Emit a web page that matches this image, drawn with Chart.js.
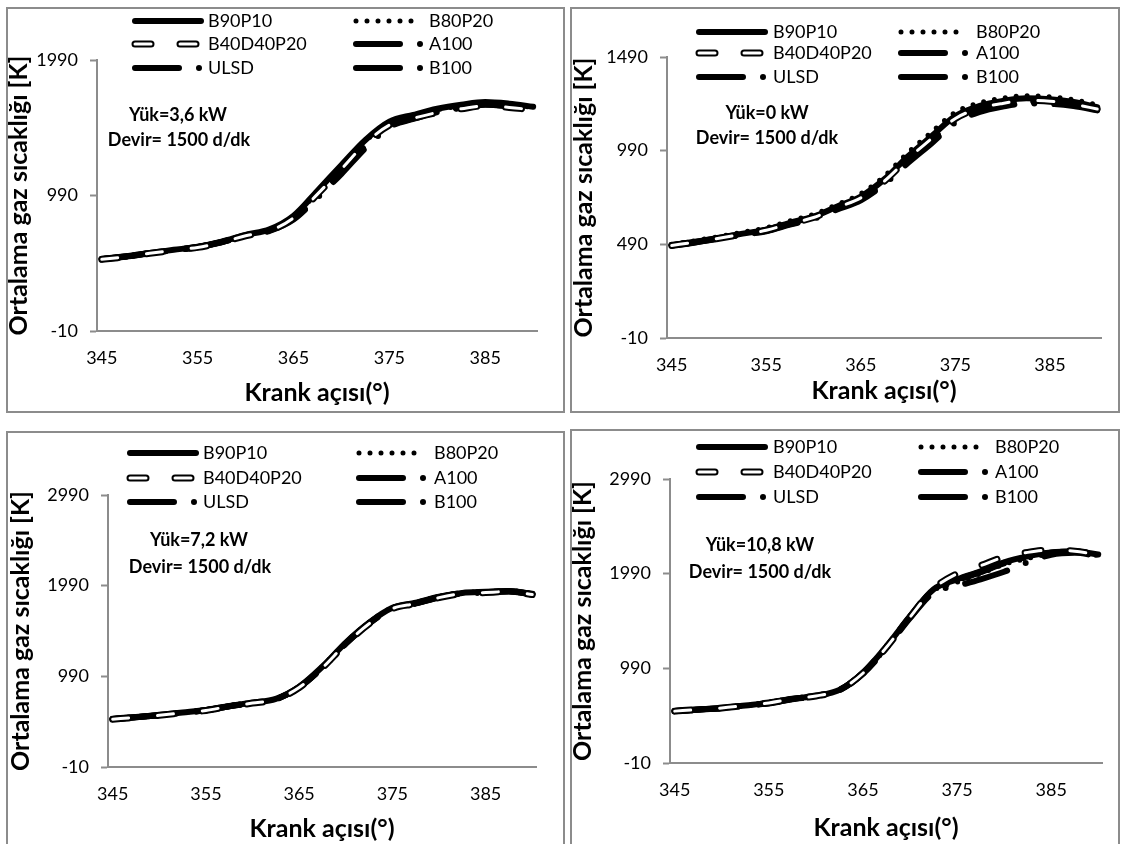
<!DOCTYPE html>
<html>
<head>
<meta charset="utf-8">
<script src="https://cdn.jsdelivr.net/npm/chart.js"></script>
<style>
  body { margin: 0; background: #fff; width: 1125px; height: 844px; overflow: hidden; position: relative; font-family: Lato, sans-serif; }
  .frame { position: absolute; border: 2px solid #8c8c8c; box-sizing: border-box; }
  canvas.layer { position: absolute; left: 0; top: 0; }
</style>
</head>
<body>
<div class="frame" style="left:6px;top:7px;width:559px;height:406px"></div>
<div class="frame" style="left:570px;top:7px;width:550px;height:406px"></div>
<div class="frame" style="left:6px;top:431px;width:559px;height:430px"></div>
<div class="frame" style="left:570px;top:429px;width:550px;height:430px"></div>
<canvas id="chart1" class="layer" width="1125" height="844"></canvas>
<canvas id="chart2" class="layer" width="1125" height="844"></canvas>
<canvas id="chart3" class="layer" width="1125" height="844"></canvas>
<canvas id="chart4" class="layer" width="1125" height="844"></canvas>
<script>
// crank angle (deg) shared by every series
const angles = [345, 347.5, 350, 352.5, 355, 357.5, 360, 362.5, 365, 367.5, 370, 372.5, 375, 377.5, 380, 382.5, 385, 387.5, 390];
const seriesNames = ['B90P10', 'B80P20', 'B40D40P20', 'A100', 'ULSD', 'B100'];
const xTicks = [345, 355, 365, 375, 385];

// Yük=3,6 kW
const p1Ticks = [-10, 990, 1990];
const p1_B90P10    = [521, 541, 566, 589, 612, 650, 700, 740, 840, 1025, 1215, 1400, 1535, 1585, 1630, 1660, 1680, 1668, 1645];
const p1_B80P20    = [520, 540, 565, 588, 610, 648, 698, 736, 835, 1015, 1205, 1392, 1528, 1578, 1622, 1652, 1672, 1660, 1640];
const p1_B40D40P20 = [519, 538, 563, 586, 607, 644, 693, 730, 825, 1000, 1185, 1375, 1510, 1560, 1602, 1630, 1652, 1640, 1622];
const p1_A100      = [520, 539, 564, 587, 609, 646, 696, 732, 818, 985, 1165, 1355, 1500, 1560, 1610, 1640, 1662, 1650, 1630];
const p1_ULSD      = [519, 538, 563, 586, 608, 645, 694, 729, 812, 975, 1150, 1340, 1495, 1555, 1605, 1636, 1660, 1648, 1628];
const p1_B100      = [520, 540, 565, 588, 610, 647, 697, 734, 822, 992, 1175, 1365, 1512, 1568, 1615, 1645, 1668, 1655, 1634];

// Yük=0 kW
const p2Ticks = [-10, 490, 990, 1490];
const p2_B90P10    = [486, 504, 525, 547, 568, 605, 638, 692, 745, 838, 960, 1068, 1175, 1228, 1255, 1270, 1265, 1250, 1222];
const p2_B80P20    = [490, 510, 532, 555, 578, 615, 650, 703, 760, 855, 980, 1090, 1195, 1245, 1270, 1283, 1278, 1262, 1235];
const p2_B40D40P20 = [484, 502, 522, 544, 565, 601, 633, 686, 738, 828, 948, 1055, 1162, 1215, 1242, 1258, 1254, 1238, 1212];
const p2_A100      = [483, 500, 520, 541, 560, 595, 626, 676, 725, 812, 925, 1030, 1140, 1195, 1225, 1242, 1240, 1228, 1205];
const p2_ULSD      = [484, 501, 521, 543, 562, 598, 630, 680, 730, 818, 932, 1040, 1150, 1205, 1235, 1250, 1248, 1235, 1210];
const p2_B100      = [485, 503, 523, 545, 565, 600, 634, 685, 736, 825, 940, 1048, 1158, 1212, 1240, 1256, 1252, 1240, 1214];

// Yük=7,2 kW
const p3Ticks = [-10, 990, 1990, 2990];
const p3_B90P10    = [520, 541, 564, 591, 619, 663, 700, 742, 875, 1098, 1362, 1582, 1746, 1802, 1868, 1910, 1922, 1932, 1900];
const p3_B80P20    = [521, 542, 565, 592, 620, 664, 701, 743, 876, 1100, 1365, 1585, 1748, 1803, 1870, 1913, 1925, 1936, 1905];
const p3_B40D40P20 = [517, 538, 560, 587, 614, 658, 695, 736, 866, 1085, 1348, 1570, 1737, 1792, 1858, 1902, 1914, 1925, 1892];
const p3_A100      = [518, 539, 562, 589, 616, 660, 697, 738, 868, 1088, 1352, 1574, 1740, 1795, 1862, 1905, 1917, 1928, 1895];
const p3_ULSD      = [519, 540, 563, 590, 617, 661, 698, 739, 870, 1090, 1354, 1576, 1742, 1797, 1863, 1907, 1918, 1929, 1896];
const p3_B100      = [518, 539, 561, 588, 615, 659, 696, 737, 867, 1086, 1350, 1572, 1738, 1794, 1860, 1904, 1915, 1926, 1890];

// Yük=10,8 kW
const p4Ticks = [-10, 990, 1990, 2990];
const p4_B90P10    = [540, 556, 572, 598, 625, 668, 700, 763, 945, 1222, 1540, 1825, 1930, 2015, 2110, 2172, 2215, 2225, 2192];
const p4_B80P20    = [538, 554, 570, 596, 623, 665, 697, 760, 936, 1210, 1525, 1810, 1900, 1990, 2090, 2150, 2200, 2215, 2180];
const p4_B40D40P20 = [538, 554, 571, 597, 624, 666, 698, 761, 938, 1212, 1530, 1830, 1990, 2075, 2165, 2215, 2240, 2228, 2190];
const p4_A100      = [539, 555, 571, 597, 624, 666, 698, 761, 940, 1215, 1532, 1815, 1920, 2005, 2100, 2165, 2210, 2222, 2188];
const p4_ULSD      = [537, 553, 569, 595, 622, 664, 696, 758, 932, 1205, 1520, 1790, 1860, 1930, 2010, 2110, 2190, 2210, 2175];
const p4_B100      = [539, 555, 572, 598, 625, 667, 699, 762, 942, 1218, 1535, 1818, 1925, 2010, 2105, 2168, 2212, 2224, 2190];

const lineStyles = {
    B90P10:    { dash: [], width: 6 },
    B80P20:    { dash: [0, 11], width: 5 },
    B40D40P20: { dash: [16, 29], width: 7, hollow: true },
    A100:      { dash: [44, 20, 0, 20], width: 6 },
    ULSD:      { dash: [44, 20, 0, 20], width: 6 },
    B100:      { dash: [44, 20, 0, 20], width: 6 }
};

const FONT = 'Lato';

function strokeSample(ctx, style, x0, x1, y) {
    ctx.lineCap = 'round';
    ctx.setLineDash(style.dash);
    ctx.strokeStyle = '#000';
    ctx.lineWidth = style.width;
    ctx.beginPath();
    ctx.moveTo(x0, y);
    ctx.lineTo(x1, y);
    ctx.stroke();
    if (style.hollow) {
        ctx.strokeStyle = '#fff';
        ctx.lineWidth = 3;
        ctx.stroke();
    }
}

// legend and load/speed note drawn on top of each panel
const overlay = {
    id: 'overlay',
    afterDraw(chart, args, opts) {
        const ctx = chart.ctx;
        ctx.save();
        seriesNames.forEach((name, i) => {
            const col = opts.cols[i % 2];
            const y = opts.rows[Math.floor(i / 2)];
            strokeSample(ctx, lineStyles[name], col.x0, col.x1, y);
            ctx.setLineDash([]);
            ctx.fillStyle = '#000';
            ctx.font = '18px ' + FONT;
            ctx.textAlign = 'left';
            ctx.textBaseline = 'middle';
            ctx.fillText(name, col.tx, y);
        });
        ctx.font = 'bold 18px ' + FONT;
        ctx.textAlign = 'center';
        opts.notes.forEach(n => ctx.fillText(n.text, n.x, n.y));
        ctx.restore();
    }
};

function makeChart(id, p) {
    const datasets = [];
    seriesNames.forEach(name => {
        const st = lineStyles[name];
        const pts = angles.map((a, i) => ({ x: a, y: p.values[name][i] }));
        const base = {
            label: name,
            data: pts,
            borderColor: '#000',
            borderWidth: st.width,
            borderDash: st.dash,
            borderCapStyle: 'round',
            borderJoinStyle: 'round',
            pointRadius: 0,
            cubicInterpolationMode: 'monotone',
            order: st.hollow ? 1 : 2
        };
        datasets.push(base);
        if (st.hollow) {
            datasets.push(Object.assign({}, base, { label: name + ' inner', borderColor: '#fff', borderWidth: 3, order: 0 }));
        }
    });

    const g = p.geom;
    return new Chart(document.getElementById(id), {
        type: 'line',
        data: { datasets: datasets },
        plugins: [overlay],
        options: {
            responsive: false,
            animation: false,
            events: [],
            layout: {
                padding: { left: g.padLeft, top: g.top, right: 1125 - g.right, bottom: 844 - g.xBottom }
            },
            plugins: {
                legend: { display: false },
                tooltip: { enabled: false },
                overlay: { rows: p.rows, cols: p.cols, notes: p.notes }
            },
            scales: {
                x: {
                    type: 'linear',
                    min: 344.5,
                    max: 390.4,
                    afterBuildTicks: s => { s.ticks = xTicks.map(v => ({ value: v })); },
                    afterFit: s => { s.height = g.xBottom - g.bottom; },
                    grid: { display: true, drawOnChartArea: false, drawTicks: false },
                    border: { color: '#8c8c8c', width: 2 },
                    ticks: { color: '#000', font: { family: FONT, size: 18 }, padding: 16, maxRotation: 0 },
                    title: { display: true, text: 'Krank açısı(°)', color: '#000', font: { family: FONT, size: 25, weight: 'bold' }, padding: 0 }
                },
                y: {
                    min: p.yTicks[0],
                    max: p.yTicks[p.yTicks.length - 1],
                    afterBuildTicks: s => { s.ticks = p.yTicks.map(v => ({ value: v })); },
                    afterFit: s => { s.width = g.left - g.padLeft; },
                    grid: { display: true, drawOnChartArea: false, drawTicks: true, tickLength: 7, tickColor: '#8c8c8c', tickWidth: 2 },
                    border: { color: '#8c8c8c', width: 2 },
                    ticks: { color: '#000', font: { family: FONT, size: 18 }, padding: 12, callback: v => String(v) },
                    title: { display: true, text: 'Ortalama gaz sıcaklığı [K]', color: '#000', font: { family: FONT, size: 25, weight: 'bold' }, padding: 0 }
                }
            }
        }
    });
}

function valuesOf(a, b, c, d, e, f) {
    return { B90P10: a, B80P20: b, B40D40P20: c, A100: d, ULSD: e, B100: f };
}

makeChart('chart1', {
    yTicks: p1Ticks,
    values: valuesOf(p1_B90P10, p1_B80P20, p1_B40D40P20, p1_A100, p1_ULSD, p1_B100),
    geom: { padLeft: 4, left: 97, right: 537, top: 60, bottom: 331, xBottom: 408 },
    rows: [21, 44, 68],
    cols: [{ x0: 135, x1: 201, tx: 208 }, { x0: 356, x1: 421, tx: 429 }],
    notes: [{ text: 'Yük=3,6 kW', x: 178, y: 115 }, { text: 'Devir= 1500 d/dk', x: 179, y: 140 }]
});

makeChart('chart2', {
    yTicks: p2Ticks,
    values: valuesOf(p2_B90P10, p2_B80P20, p2_B40D40P20, p2_A100, p2_ULSD, p2_B100),
    geom: { padLeft: 569, left: 667, right: 1101, top: 57, bottom: 338, xBottom: 406 },
    rows: [32, 53, 77],
    cols: [{ x0: 699, x1: 765, tx: 773 }, { x0: 901, x1: 966, tx: 976 }],
    notes: [{ text: 'Yük=0 kW', x: 767, y: 113 }, { text: 'Devir= 1500 d/dk', x: 767, y: 138 }]
});

makeChart('chart3', {
    yTicks: p3Ticks,
    values: valuesOf(p3_B90P10, p3_B80P20, p3_B40D40P20, p3_A100, p3_ULSD, p3_B100),
    geom: { padLeft: 6, left: 108, right: 536, top: 495, bottom: 767, xBottom: 844 },
    rows: [453, 478, 502],
    cols: [{ x0: 130, x1: 196, tx: 203 }, { x0: 359, x1: 424, tx: 434 }],
    notes: [{ text: 'Yük=7,2 kW', x: 199, y: 540 }, { text: 'Devir= 1500 d/dk', x: 200, y: 567 }]
});

makeChart('chart4', {
    yTicks: p4Ticks,
    values: valuesOf(p4_B90P10, p4_B80P20, p4_B40D40P20, p4_A100, p4_ULSD, p4_B100),
    geom: { padLeft: 568, left: 670, right: 1102, top: 479, bottom: 763, xBottom: 843 },
    rows: [447, 472, 497],
    cols: [{ x0: 699, x1: 765, tx: 773 }, { x0: 921, x1: 986, tx: 995 }],
    notes: [{ text: 'Yük=10,8 kW', x: 760, y: 545 }, { text: 'Devir= 1500 d/dk', x: 760, y: 572 }]
});
</script>
</body>
</html>
